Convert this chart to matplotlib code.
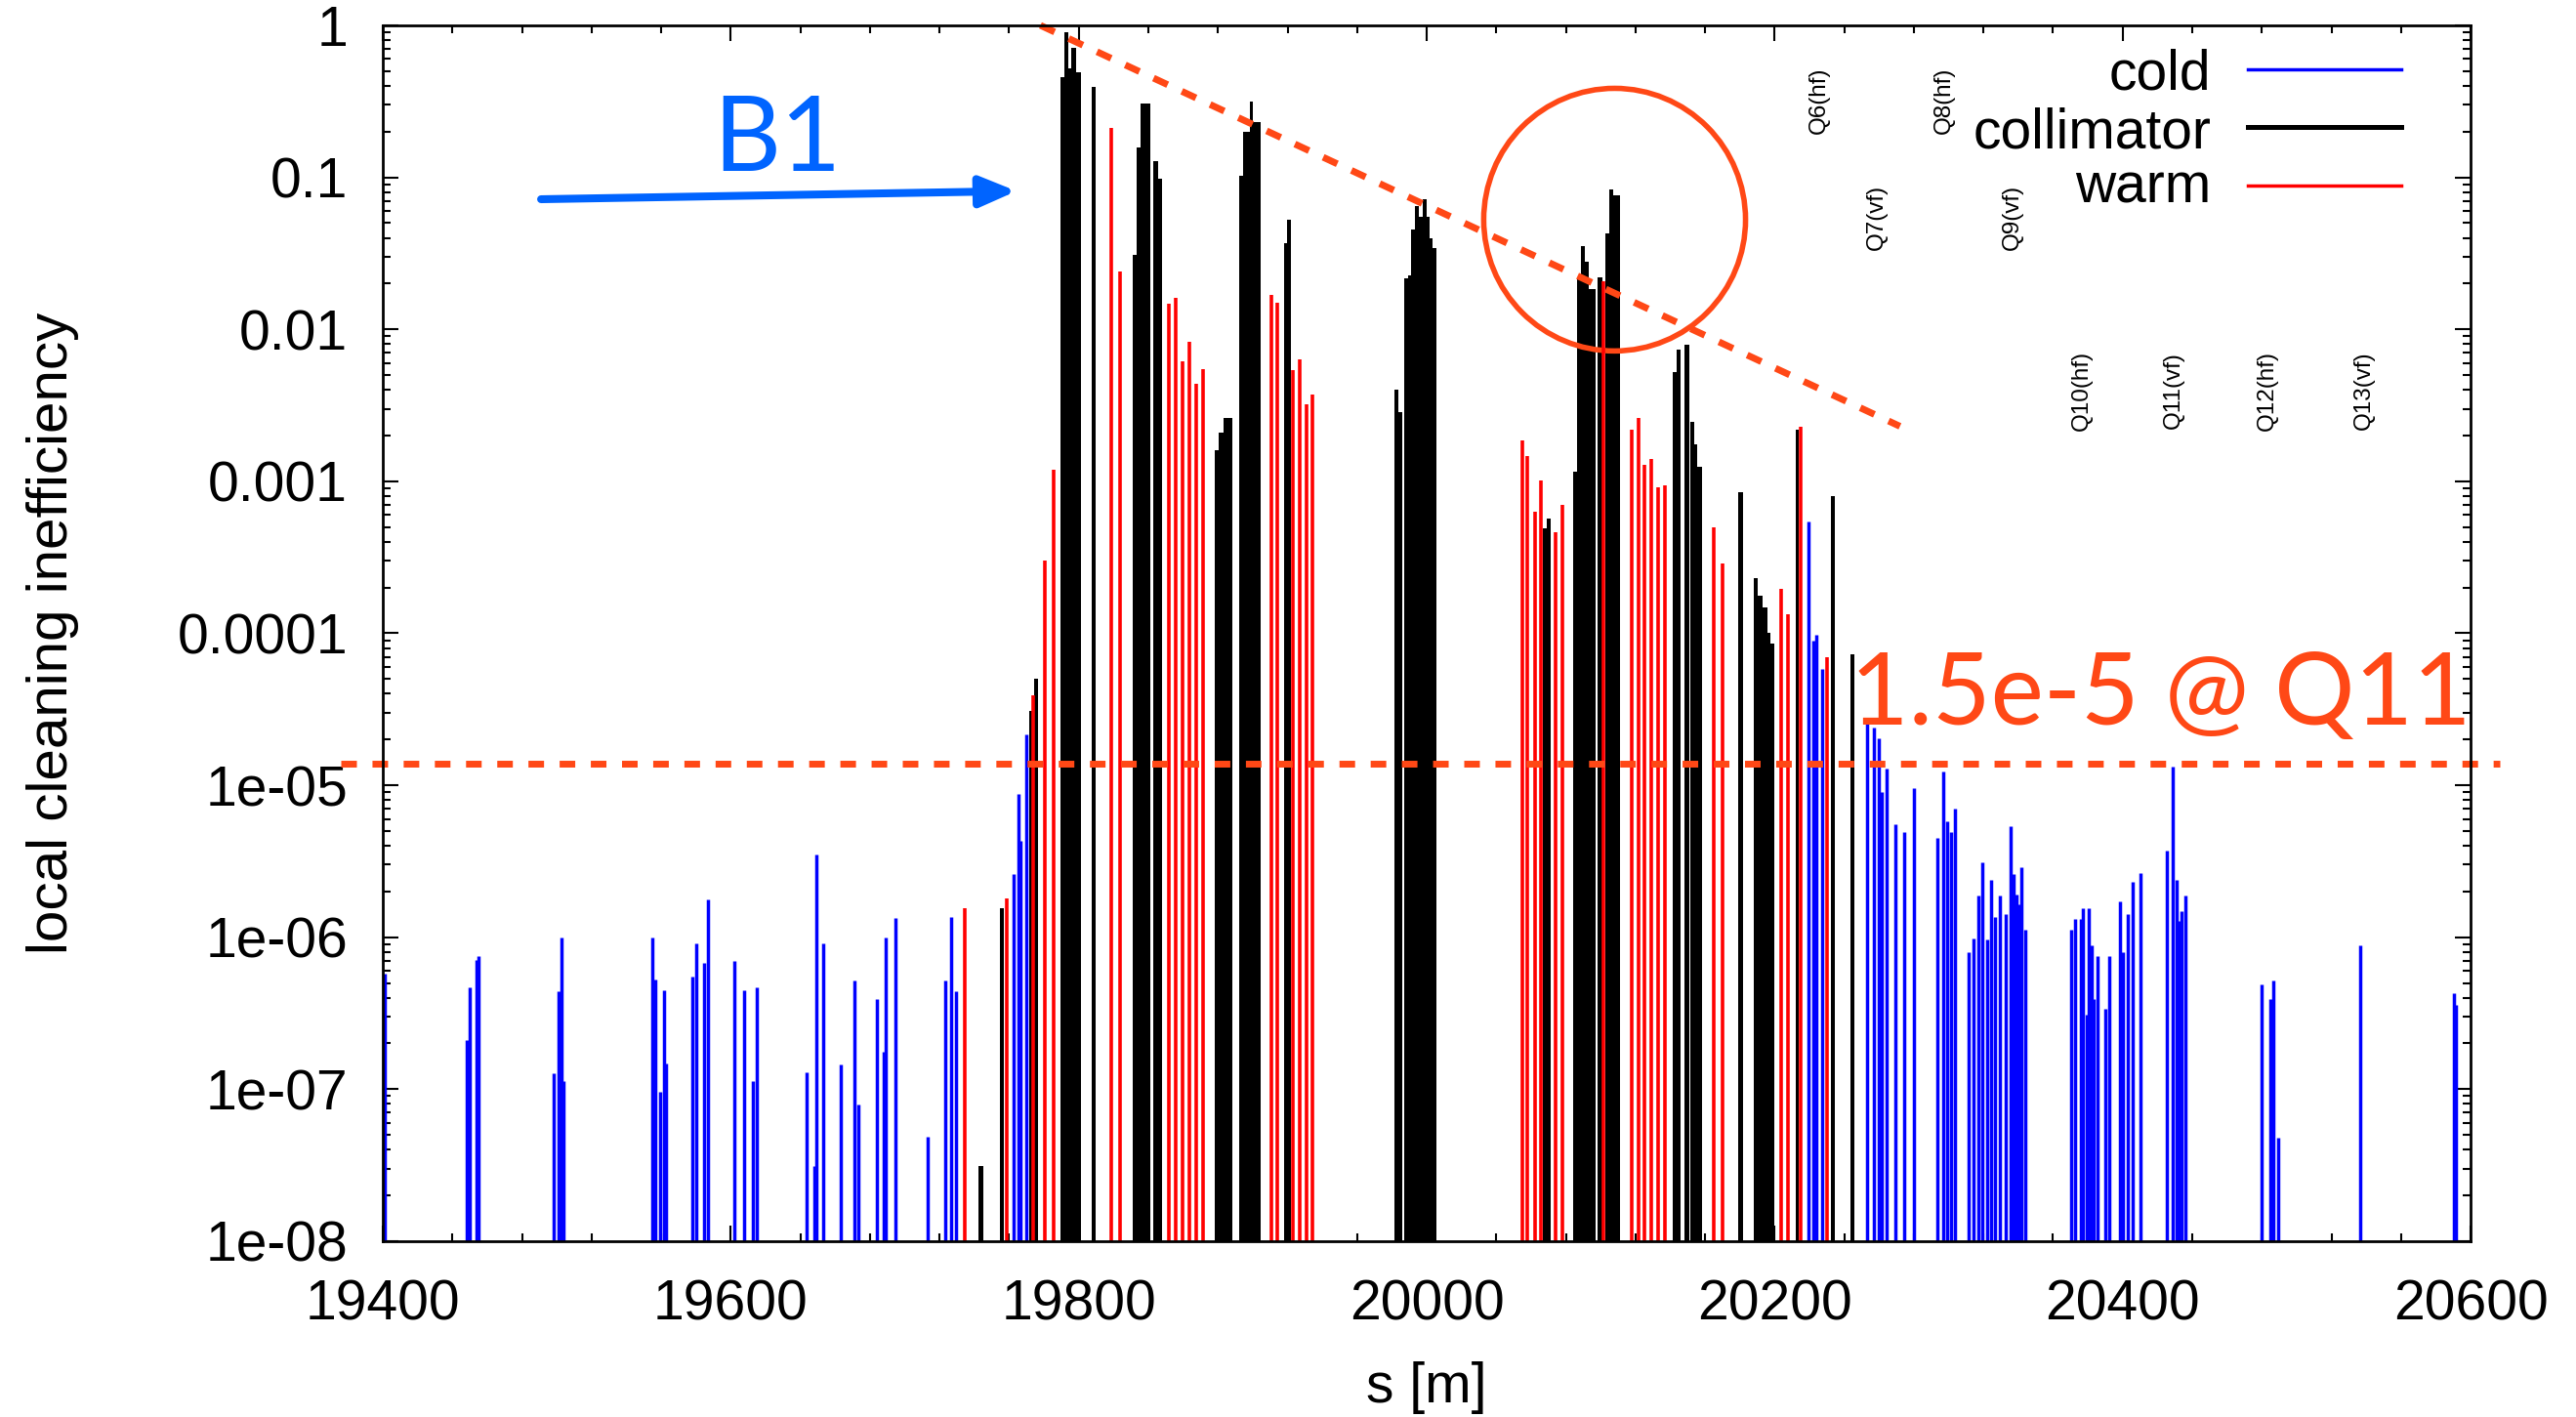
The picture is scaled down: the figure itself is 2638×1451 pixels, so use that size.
import matplotlib
matplotlib.use('Agg')
from matplotlib import pyplot as plt
from matplotlib.patches import Ellipse
from matplotlib.lines import Line2D

# cold elements: s [m] and local cleaning inefficiency
cold_s = [19401.0, 19448.1, 19450.2, 19453.9, 19455.0, 19498.3, 19501.0, 19502.5,
          19504.0, 19555.0, 19556.6, 19559.5, 19561.4, 19562.7, 19577.7, 19580.0,
          19584.8, 19587.0, 19602.0, 19607.7, 19612.5, 19615.0, 19643.7, 19648.0,
          19649.4, 19653.0, 19663.4, 19671.0, 19673.5, 19684.2, 19688.1, 19689.3,
          19694.6, 19712.9, 19723.2, 19726.4, 19729.4, 19762.4, 19765.3, 19766.7,
          19769.9, 20219.3, 20222.1, 20224.0, 20227.2, 20253.2, 20257.2, 20260.0,
          20261.7, 20264.3, 20269.4, 20274.6, 20280.3, 20293.3, 20296.6, 20299.0,
          20301.3, 20303.7, 20311.3, 20314.3, 20316.9, 20319.3, 20321.9, 20324.2,
          20326.6, 20329.4, 20332.8, 20335.6, 20337.2, 20338.7, 20340.5, 20341.7,
          20344.1, 20370.5, 20372.9, 20376.0, 20377.2, 20379.1, 20380.7, 20381.9,
          20383.1, 20385.4, 20390.2, 20392.5, 20398.2, 20400.1, 20402.9, 20405.5,
          20410.0, 20425.6, 20428.7, 20431.0, 20432.0, 20433.6, 20436.2, 20480.1,
          20485.1, 20486.8, 20489.1, 20536.8, 20590.2, 20591.4]
cold_eta = [5.8e-7, 2.1e-7, 4.7e-7, 7.1e-7, 7.5e-7, 1.28e-7, 4.4e-7, 1.0e-6,
            1.13e-7, 1.0e-6, 5.3e-7, 9.6e-8, 4.5e-7, 1.47e-7, 5.5e-7, 9.1e-7,
            6.8e-7, 1.77e-6, 7.0e-7, 4.5e-7, 1.13e-7, 4.7e-7, 1.29e-7, 3.1e-8,
            3.5e-6, 9.1e-7, 1.45e-7, 5.2e-7, 7.9e-8, 3.9e-7, 1.76e-7, 1.0e-6,
            1.33e-6, 4.9e-8, 5.2e-7, 1.36e-6, 4.4e-7, 2.6e-6, 8.8e-6, 4.3e-6,
            2.16e-5, 5.4e-4, 9.0e-5, 9.8e-5, 5.8e-5, 2.66e-5, 2.4e-5, 2.05e-5,
            9.0e-6, 1.29e-5, 5.5e-6, 4.9e-6, 9.6e-6, 4.5e-6, 1.23e-5, 5.8e-6,
            4.9e-6, 7.0e-6, 8.0e-7, 9.8e-7, 1.87e-6, 3.1e-6, 9.6e-7, 2.4e-6,
            1.36e-6, 1.87e-6, 1.42e-6, 5.4e-6, 2.6e-6, 1.92e-6, 1.64e-6, 2.9e-6,
            1.12e-6, 1.12e-6, 1.31e-6, 1.31e-6, 1.56e-6, 3.1e-7, 1.55e-6, 8.8e-7,
            3.9e-7, 7.5e-7, 3.4e-7, 7.5e-7, 1.73e-6, 8.0e-7, 1.42e-6, 2.3e-6,
            2.65e-6, 3.7e-6, 1.33e-5, 2.4e-6, 1.28e-6, 1.49e-6, 1.87e-6, 4.9e-7,
            3.9e-7, 5.2e-7, 4.8e-8, 8.8e-7, 4.3e-7, 3.6e-7]

# warm elements
warm_s = [19734.4, 19758.5, 19774.0, 19780.8, 19785.3, 19818.6, 19823.5, 19851.8,
          19855.7, 19859.5, 19863.4, 19867.3, 19871.2, 19910.5, 19914.3, 19923.3,
          19926.9, 19930.8, 19934.3, 20054.7, 20058.0, 20062.2, 20065.9, 20074.3,
          20078.0, 20101.6, 20117.7, 20121.5, 20125.2, 20129.1, 20132.9, 20136.8,
          20165.1, 20170.3, 20203.8, 20207.9, 20215.2, 20230.2]
warm_eta = [1.56e-6, 1.79e-6, 3.9e-5, 3.0e-4, 1.2e-3, 0.21, 0.024, 0.0147,
            0.0161, 0.0062, 0.0083, 0.0044, 0.0055, 0.0169, 0.0149, 0.0054,
            0.0063, 0.0032, 0.0037, 1.85e-3, 1.46e-3, 6.3e-4, 1.01e-3, 4.6e-4,
            7.0e-4, 0.0206, 2.2e-3, 2.6e-3, 1.29e-3, 1.41e-3, 9.1e-4, 9.4e-4,
            5.0e-4, 2.86e-4, 1.96e-4, 1.34e-4, 2.3e-3, 7.0e-5]

# collimators: bins from start to end [m]
coll_start = [19742.6, 19754.6, 19771.7, 19774.6, 19789.6, 19791.9, 19793.8, 19795.4,
              19798.3, 19807.3, 19830.9, 19833.1, 19835.4, 19843.1, 19845.4, 19878.2,
              19880.5, 19883.1, 19885.3, 19892.1, 19894.3, 19898.2, 19900.1, 19917.9,
              19919.5, 19981.3, 19983.6, 19986.9, 19989.2, 19991.1, 19993.3, 19995.7,
              19997.6, 19999.9, 20001.7, 20003.6, 20066.8, 20069.1, 20084.2, 20086.5,
              20088.7, 20090.8, 20093.0, 20098.3, 20102.4, 20104.7, 20107.1, 20141.3,
              20143.5, 20148.2, 20151.6, 20153.8, 20155.7, 20179.1, 20187.9, 20190.3,
              20192.8, 20195.6, 20197.8, 20211.9, 20232.3, 20243.6]
coll_end = [19745.2, 19757.2, 19773.4, 19776.6, 19791.9, 19793.8, 19795.4, 19798.3,
            19801.2, 19809.6, 19833.1, 19835.4, 19841.0, 19845.4, 19847.6, 19880.5,
            19883.1, 19885.3, 19888.5, 19894.3, 19898.2, 19900.1, 19904.3, 19919.5,
            19921.7, 19983.6, 19985.8, 19989.2, 19991.1, 19993.3, 19995.7, 19997.6,
            19999.9, 20001.7, 20003.6, 20005.8, 20069.1, 20071.5, 20086.5, 20088.7,
            20090.8, 20093.0, 20097.2, 20100.9, 20104.7, 20107.1, 20111.0, 20143.5,
            20145.8, 20151.0, 20153.8, 20155.7, 20158.1, 20181.7, 20190.3, 20192.8,
            20195.6, 20197.8, 20199.7, 20213.9, 20234.3, 20245.6]
coll_eta = [3.1e-8, 1.56e-6, 3.1e-5, 5.0e-5, 0.457, 0.90, 0.52, 0.71,
            0.49, 0.395, 0.031, 0.158, 0.305, 0.128, 0.098, 1.6e-3,
            2.1e-3, 2.6e-3, 2.6e-3, 0.103, 0.199, 0.315, 0.23, 0.037,
            0.053, 4.0e-3, 2.86e-3, 0.0217, 0.0228, 0.0457, 0.0644, 0.055,
            0.0714, 0.055, 0.0395, 0.0345, 4.9e-4, 5.7e-4, 1.15e-3, 0.0217,
            0.0352, 0.028, 0.0185, 0.0221, 0.0425, 0.0834, 0.0767, 5.2e-3,
            7.3e-3, 7.9e-3, 2.45e-3, 1.74e-3, 1.25e-3, 8.5e-4, 2.3e-4, 1.77e-4,
            1.49e-4, 1.0e-4, 8.5e-5, 2.2e-3, 8.0e-4, 7.3e-5]

ytick_vals = [1, 0.1, 0.01, 0.001, 0.0001, 1e-5, 1e-6, 1e-7, 1e-8]
ytick_labels = ['1', '0.1', '0.01', '0.001', '0.0001', '1e-05', '1e-06', '1e-07', '1e-08']
xtick_vals = [19400, 19600, 19800, 20000, 20200, 20400, 20600]

# quadrupole labels
q_names = ['Q6(hf)', 'Q7(vf)', 'Q8(hf)', 'Q9(vf)', 'Q10(hf)', 'Q11(vf)', 'Q12(hf)', 'Q13(vf)']
q_s = [20225.7, 20258.6, 20297.5, 20336.5, 20376.7, 20429.4, 20483.3, 20538.9]
q_eta = [0.32, 0.055, 0.32, 0.055, 3.95e-3, 3.95e-3, 3.95e-3, 3.95e-3]

limit_level = 1.38e-5
slope_s = [19778, 20272]
slope_eta = [1.0, 2.3e-3]

orange = '#FF4816'
beam_blue = '#0064FF'
floor = 1e-9

plt.rcParams['font.family'] = ['Liberation Sans', 'DejaVu Sans']

fig = plt.figure(figsize=(26.38, 14.51), dpi=100)
ax = fig.add_axes([0.1486, 0.1241, 0.8105, 0.8580])

widths = [e - s for s, e in zip(coll_start, coll_end)]
heights = [v - floor for v in coll_eta]
ax.bar(coll_start, heights, width=widths, bottom=floor, align='edge',
       color='black', linewidth=0)
ax.vlines(cold_s, floor, cold_eta, color='#0000FF', linewidth=2.5)
ax.vlines(warm_s, floor, warm_eta, color='#FF0000', linewidth=2.6)

ax.set_yscale('log')
ax.set_xlim(19400, 20600)
ax.set_ylim(1e-8, 1)
ax.set_xticks(xtick_vals)
ax.set_xticks(range(19400, 20601, 40), minor=True)
ax.set_yticks(ytick_vals)
ax.set_yticklabels(ytick_labels)
ax.tick_params(which='both', direction='in', top=True, right=True, width=1.5,
               labelsize=41, pad=26)
ax.tick_params(axis='x', pad=28)
ax.tick_params(which='major', length=11.5)
ax.tick_params(which='minor', length=5.8)
for sp in ax.spines.values():
    sp.set_linewidth(2)

ax.set_xlabel('s [m]', fontsize=41, labelpad=22)
ax.set_ylabel('local cleaning inefficiency', fontsize=42, labelpad=72)

# quadrupole labels
for name, s, v in zip(q_names, q_s, q_eta):
    ax.text(s, v, name, rotation=90, ha='center', va='center', fontsize=17.5)

# legend drawn by hand: text then a short line
leg_labels = ['cold', 'collimator', 'warm']
leg_colors = ['#0000FF', 'black', '#FF0000']
leg_lw = [2.5, 3.6, 2.5]
leg_text_y = [0.947, 0.8988, 0.8538]
leg_line_y = [0.9639, 0.9165, 0.8683]
for lab, c, lw, ty, ly in zip(leg_labels, leg_colors, leg_lw, leg_text_y, leg_line_y):
    ax.text(0.8756, ty, lab, transform=ax.transAxes, ha='right', va='baseline',
            fontsize=41)
    ax.add_line(Line2D([0.8933, 0.9668], [ly, ly], transform=ax.transAxes,
                       color=c, linewidth=lw))

# annotations
ax.plot([19376, 20617], [limit_level, limit_level], color=orange, linewidth=5,
        linestyle=(0, (2.3, 2.3)), clip_on=False)
ax.plot(slope_s, slope_eta, color=orange, linewidth=5,
        linestyle=(0, (2.3, 2.3)), clip_on=False)
ax.add_patch(Ellipse((0.590, 0.8402), 0.1254, 0.216, transform=ax.transAxes,
                     fill=False, edgecolor=orange, linewidth=4))
ax.text(0.703, 0.4249, '1.5e-5 @ Q11', transform=ax.transAxes, ha='left',
        va='baseline', fontsize=74, family='Lato', color=orange)

ax.annotate('', xy=(0.3035, 0.8637), xytext=(0.0758, 0.857),
            xycoords='axes fraction', textcoords='axes fraction',
            arrowprops=dict(arrowstyle='-|>,head_length=1.3,head_width=0.55',
                            color=beam_blue, lw=5.8, mutation_scale=17,
                            shrinkA=0, shrinkB=0))
ax.text(0.158, 0.880, 'B1', transform=ax.transAxes, ha='left', va='baseline',
        fontsize=77, family='Lato', color=beam_blue)

fig.savefig('out.png', dpi=100)
